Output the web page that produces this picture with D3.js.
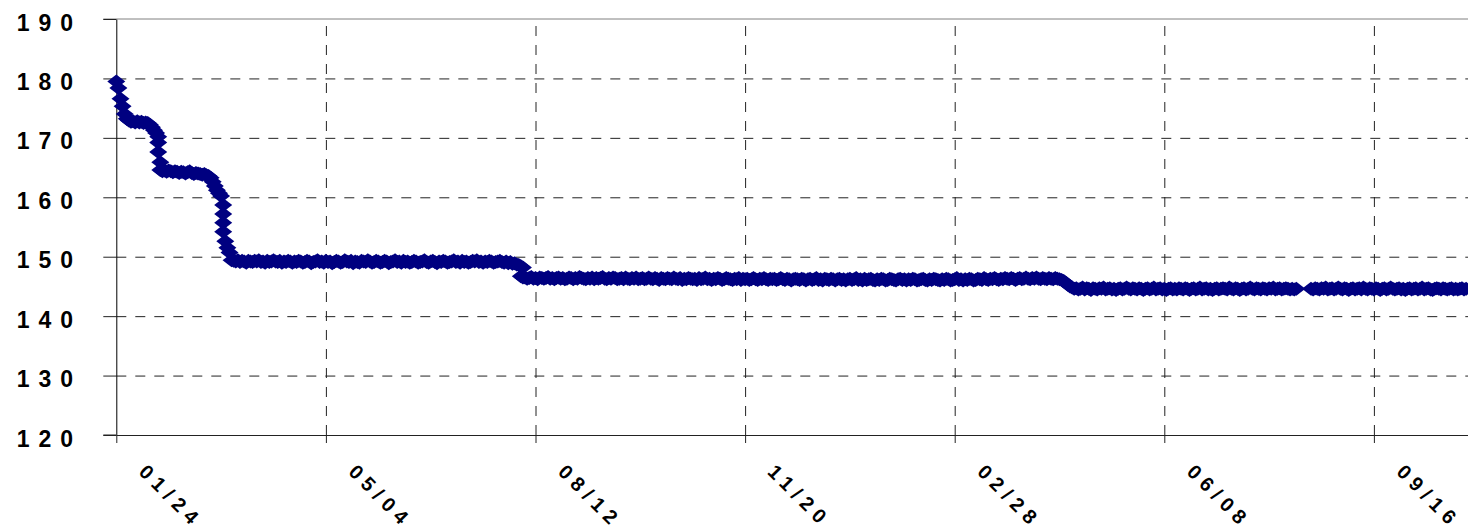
<!DOCTYPE html>
<html>
<head>
<meta charset="utf-8">
<script src="https://cdn.jsdelivr.net/npm/d3@7"></script>
<style>
  body { margin: 0; background: #fff; }
  .axis text { font-family: 'Liberation Sans', Arial, sans-serif; font-weight: bold; fill: #000; }
  .grid .domain { display: none; }
</style>
</head>
<body>
<div id="chart"></div>
<script>
const width = 1468;
const height = 532;
const plotLeft = 116.3;
const plotTop = 19;
const plotBottom = 435;
const pxPerDay = 2.096;
const daysShown = 645;

const firstDate = '2001-01-24';
const tickDates = ['2001-01-24', '2001-05-04', '2001-08-12', '2001-11-20', '2002-02-28', '2002-06-08', '2002-09-16'];
const yTicks = [120, 130, 140, 150, 160, 170, 180, 190];

// one reading per day from firstDate, in order
const weightsDescent = [
  179.5, 178.4, 176.6, 175.3, 174.0, 173.2, 172.9, 172.7, 172.8, 172.6,
  172.8, 172.6, 172.7, 172.5, 172.6, 172.5, 172.2, 171.8, 171.3, 170.8,
  170.2, 164.6,
  164.4, 164.5, 164.3, 164.5, 164.4, 164.2, 164.4, 164.3, 164.1, 164.3,
  164.2, 164.0, 164.2, 164.4, 164.1, 163.9, 164.1, 164.0, 163.9, 163.8,
  163.9, 163.7, 163.6,
  163.3, 162.6, 161.9, 161.2, 160.7, 160.2, 158.7, 152.6, 151.5, 150.7,
];
const weightsFirstPlateau = [
  149.4, 149.3, 149.2, 149.4, 149.1, 149.3, 149.2, 149.0, 149.3, 149.2,
  149.1, 149.3, 149.2, 149.4, 149.1, 149.2, 149.0, 149.3, 149.1, 149.2,
  149.4, 149.2, 149.1, 149.3, 149.0, 149.2, 149.1, 149.3, 149.2, 149.0,
  149.2, 149.1, 149.3, 149.2, 149.0, 149.1, 149.3, 149.2, 148.9, 149.1,
  149.2, 149.4, 149.1, 149.2, 149.0, 149.3, 149.1, 149.2, 148.9, 149.1,
  149.3, 149.2, 149.0, 149.1, 149.4, 149.2, 149.1, 149.3, 148.9, 149.2,
  149.1, 149.0, 149.3, 149.2, 149.1, 149.4, 149.2, 149.0, 149.1, 149.3,
  149.2, 149.0, 149.1, 149.3, 149.2, 148.9, 149.1, 149.2, 149.4, 149.1,
  149.2, 149.0, 149.3, 149.1, 149.2, 149.0, 149.1, 149.3, 149.2, 149.0,
  149.1, 149.2, 149.4, 149.1, 149.0, 149.2, 149.3, 149.1, 148.9, 149.2,
  149.1, 149.3, 149.2, 149.0, 149.1, 149.2, 149.4, 149.1, 149.2, 149.0,
  149.3, 149.1, 149.2, 149.0, 149.1, 149.3, 149.2, 149.4, 149.1, 149.2,
  149.0, 149.2, 149.1, 149.3, 149.2, 149.0, 149.1, 149.2, 149.3, 149.1,
  149.0, 149.2, 148.9, 149.1, 148.8, 148.9, 148.7,
];
const weightsStep = [148.6, 146.7, 146.5];
const weightsSecondPlateau = [
  146.5, 146.3, 146.4, 146.6, 146.3, 146.4, 146.2, 146.5, 146.4, 146.3,
  146.4, 146.6, 146.3, 146.4, 146.2, 146.4, 146.5, 146.3, 146.4, 146.2,
  146.3, 146.5, 146.4, 146.2, 146.4, 146.3, 146.6, 146.4, 146.3, 146.2,
  146.4, 146.3, 146.5, 146.2, 146.4, 146.3, 146.4, 146.6, 146.3, 146.2,
  146.4, 146.3, 146.5, 146.4, 146.2, 146.3, 146.4, 146.2, 146.5, 146.3,
  146.2, 146.4, 146.3, 146.5, 146.2, 146.3, 146.4, 146.2, 146.3, 146.5,
  146.3, 146.2, 146.4, 146.3, 146.1, 146.4, 146.3, 146.2, 146.4, 146.3,
  146.2, 146.5, 146.3, 146.2, 146.4, 146.1, 146.3, 146.2, 146.4, 146.3,
  146.2, 146.3, 146.1, 146.4, 146.2, 146.3, 146.5, 146.2, 146.3, 146.1,
  146.3, 146.2, 146.4, 146.3, 146.1, 146.2, 146.4, 146.3, 146.2, 146.1,
  146.3, 146.2, 146.4, 146.1, 146.3, 146.2, 146.3, 146.1, 146.2, 146.4,
  146.2, 146.1, 146.3, 146.2, 146.4, 146.2, 146.1, 146.3, 146.2, 146.3,
  146.1, 146.2, 146.4, 146.2, 146.1, 146.3, 146.2, 146.0, 146.2, 146.3,
  146.2, 146.1, 146.3, 146.2, 146.0, 146.2, 146.3, 146.1, 146.2, 146.4,
  146.1, 146.2, 146.0, 146.3, 146.2, 146.1, 146.3, 146.2, 146.0, 146.2,
  146.3, 146.1, 146.2, 146.0, 146.2, 146.3, 146.1, 146.2, 146.4, 146.1,
  146.2, 146.0, 146.3, 146.1, 146.2, 146.3, 146.1, 146.0, 146.2, 146.1,
  146.3, 146.2, 146.0, 146.1, 146.3, 146.2, 146.1, 146.0, 146.2, 146.3,
  146.1, 146.2, 146.0, 146.2, 146.1, 146.3, 146.2, 146.0, 146.1, 146.2,
  146.3, 146.1, 146.0, 146.2, 146.1, 146.3, 146.2, 146.1, 146.0, 146.2,
  146.1, 146.3, 146.2, 146.0, 146.1, 146.2, 146.4, 146.1, 146.2, 146.0,
  146.2, 146.1, 146.3, 146.2, 146.0, 146.1, 146.3, 146.2, 146.1, 146.4,
  146.2, 146.1, 146.3, 146.2, 146.4, 146.2, 146.1, 146.3, 146.2, 146.4,
  146.3, 146.2, 146.4, 146.3, 146.1, 146.3, 146.4, 146.2, 146.3, 146.5,
  146.3, 146.2, 146.4, 146.3, 146.5, 146.3, 146.2, 146.4, 146.3, 146.2,
  146.4, 146.3, 146.2, 146.4, 146.3, 146.2, 146.1,
];
const weightsDecline = [145.9, 145.6, 145.3, 145.0, 144.8, 144.6];
const weightsThirdPlateau = [
  144.7, 144.5, 144.6, 144.8, 144.5, 144.7, 144.6, 144.4, 144.7, 144.6,
  144.5, 144.7, 144.6, 144.8, 144.5, 144.6, 144.7, 144.5, 144.6, 144.4,
  144.6, 144.7, 144.5, 144.6, 144.8, 144.6, 144.5, 144.7, 144.6, 144.5,
  144.7, 144.6, 144.4, 144.6, 144.7, 144.5, 144.6, 144.8, 144.5, 144.6,
  144.7, 144.5, 144.6, 144.4, 144.6, 144.7, 144.5, 144.6, 144.5, 144.7,
  144.6, 144.5, 144.7, 144.6, 144.4, 144.6, 144.7, 144.5, 144.6, 144.8,
  144.5, 144.6, 144.7, 144.5, 144.6, 144.4, 144.6, 144.7, 144.5, 144.6,
  144.7, 144.6, 144.5, 144.8, 144.6, 144.5, 144.7, 144.6, 144.4, 144.6,
  144.7, 144.5, 144.6, 144.8, 144.6, 144.5, 144.7, 144.6, 144.5, 144.7,
  144.6, 144.5, 144.7, 144.6, 144.8, 144.5, 144.6, 144.7, 144.5, 144.6,
  144.7, 144.6, 144.5, 144.6, 144.5, 144.6,
];
const missingDays = [null, null, null, null, null, null];
const weightsAfterGap = [
  144.6, 144.5, 144.7, 144.6, 144.5, 144.7, 144.6, 144.8, 144.5, 144.6,
  144.7, 144.5, 144.6, 144.8, 144.6, 144.5, 144.7, 144.6, 144.4, 144.6,
  144.7, 144.5, 144.6, 144.7, 144.5, 144.8, 144.6, 144.5, 144.7, 144.6,
  144.5, 144.7, 144.6, 144.4, 144.6, 144.7, 144.5, 144.6, 144.8, 144.6,
  144.5, 144.6, 144.7, 144.5, 144.6, 144.4, 144.6, 144.7, 144.5, 144.6,
  144.7, 144.5, 144.6, 144.8, 144.5, 144.6, 144.7, 144.5, 144.4, 144.6,
  144.7, 144.6, 144.5, 144.7, 144.6, 144.5, 144.6, 144.7, 144.5, 144.6,
  144.5, 144.6, 144.7, 144.5, 144.6,
];
// extra readings taken on the same day as another one: [day offset, weight]
const sameDayReadings = [
  [20, 169.2], [20, 167.6], [21, 165.9],
  [51, 157.2], [51, 155.7], [51, 154.2],
  [193, 148.4], [194, 148.2],
];

const dailyWeights = [].concat(weightsDescent, weightsFirstPlateau, weightsStep,
  weightsSecondPlateau, weightsDecline, weightsThirdPlateau, missingDays, weightsAfterGap);

const parseDate = d3.utcParse('%Y-%m-%d');
const start = parseDate(firstDate);

const readings = dailyWeights
  .map((w, i) => ({ date: d3.utcDay.offset(start, i), weight: w }))
  .filter(d => d.weight !== null);
sameDayReadings.forEach(([day, w]) => readings.push({ date: d3.utcDay.offset(start, day), weight: w }));

const svg = d3.select('#chart')
  .append('svg')
  .attr('width', width)
  .attr('height', height)
  .style('display', 'block');

const x = d3.scaleUtc()
  .domain([start, d3.utcDay.offset(start, daysShown)])
  .range([plotLeft, plotLeft + daysShown * pxPerDay]);
const y = d3.scaleLinear().domain([120, 190]).range([plotBottom, plotTop]);

const dash = '10,9';

// horizontal gridlines
const yGrid = svg.append('g')
  .attr('class', 'grid')
  .attr('transform', `translate(${plotLeft}, 0)`)
  .call(d3.axisLeft(y).tickValues(yTicks.slice(1, -1)).tickFormat('').tickSize(-(width - plotLeft)));
yGrid.selectAll('line').attr('stroke', '#222').attr('stroke-dasharray', dash);

// vertical gridlines
const xGrid = svg.append('g')
  .attr('class', 'grid')
  .attr('transform', `translate(0, ${plotBottom})`)
  .call(d3.axisBottom(x).tickValues(tickDates.slice(1).map(parseDate)).tickFormat('')
    .tickSize(-(plotBottom - plotTop)));
xGrid.selectAll('line').attr('stroke', '#222').attr('stroke-dasharray', dash);

// top border at 190
svg.append('line')
  .attr('x1', plotLeft - 13).attr('x2', width)
  .attr('y1', y(190)).attr('y2', y(190))
  .attr('stroke', '#808080');

// y axis
const yAxis = svg.append('g')
  .attr('class', 'axis')
  .attr('transform', `translate(${plotLeft}, 0)`)
  .call(d3.axisLeft(y).tickValues(yTicks).tickSize(13).tickSizeOuter(0));
yAxis.select('.domain').attr('stroke', '#000');
yAxis.selectAll('line').attr('stroke', '#222');
yAxis.selectAll('text')
  .attr('x', 82 - plotLeft)
  .attr('dy', null)
  .attr('y', 11)
  .style('font-size', '23px')
  .style('letter-spacing', '9px');

// x axis
const xAxis = svg.append('g')
  .attr('class', 'axis')
  .attr('transform', `translate(0, ${plotBottom})`)
  .call(d3.axisBottom(x).tickValues(tickDates.map(parseDate)).tickFormat(d3.utcFormat('%m/%d'))
    .tickSize(8).tickSizeOuter(0));
xAxis.select('.domain').attr('stroke', '#222');
xAxis.selectAll('line').attr('stroke', '#222');
xAxis.selectAll('text')
  .attr('x', 0)
  .attr('y', 0)
  .attr('dy', null)
  .attr('transform', 'translate(21, 38) rotate(45)')
  .style('text-anchor', 'start')
  .style('font-size', '20px')
  .style('letter-spacing', '6px');

// x axis runs under the 120 tick mark as well
svg.append('line')
  .attr('x1', plotLeft - 13).attr('x2', plotLeft)
  .attr('y1', plotBottom).attr('y2', plotBottom)
  .attr('stroke', '#222');

// diamond markers
const diamond = 'M0,-7L9,0L0,7L-9,0Z';
svg.append('g')
  .selectAll('path')
  .data(readings)
  .enter()
  .append('path')
  .attr('d', diamond)
  .attr('transform', d => `translate(${x(d.date)}, ${y(d.weight)})`)
  .attr('fill', '#000080');
</script>
</body>
</html>
